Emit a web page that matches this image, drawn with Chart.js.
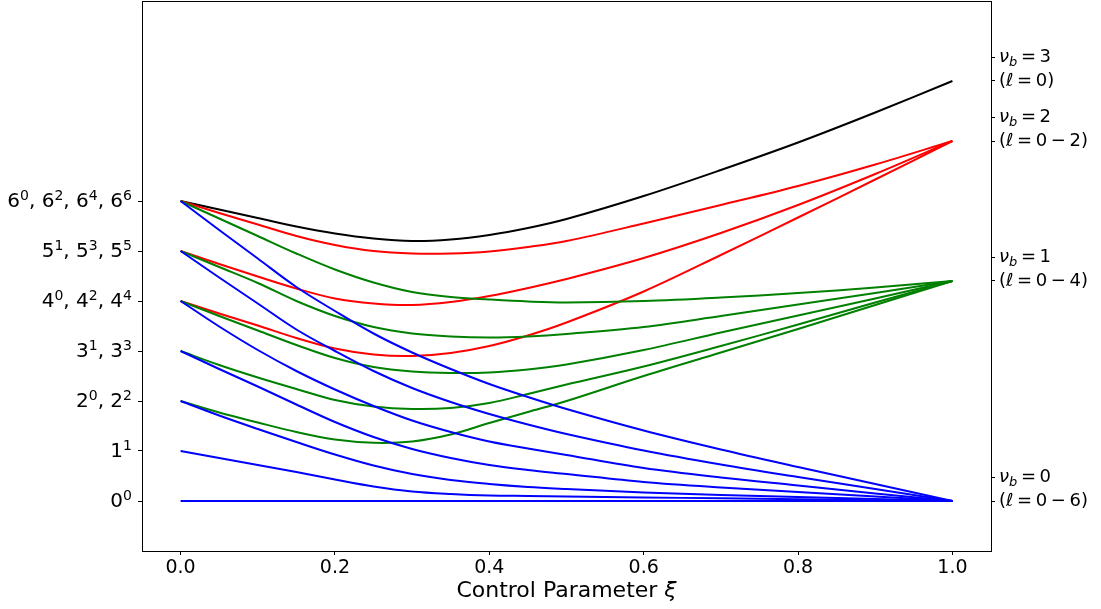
<!DOCTYPE html>
<html>
<head>
<meta charset="utf-8">
<script src="https://cdn.jsdelivr.net/npm/chart.js@4.4.1/dist/chart.umd.min.js"></script>
<style>
  html, body { margin: 0; padding: 0; background: #fff; }
  canvas { display: block; }
</style>
</head>
<body>
<canvas id="chart" width="1101" height="609"></canvas>
<script>
/* ---- data ---- */
const xi = [0, 0.05, 0.1, 0.15, 0.2, 0.25, 0.3, 0.35, 0.4, 0.45, 0.5, 0.6, 0.7, 0.8, 0.9, 1.0];

// nu_b = 0 (blue)
const s00 = [0, 0, 0, 0, 0, 0, 0, 0, 0, 0, 0, 0, 0, 0, 0, 0];
const s11 = [1, 0.86, 0.72, 0.58, 0.43, 0.29, 0.19, 0.14, 0.11, 0.1, 0.09, 0.07, 0.055, 0.035, 0.017, 0];
const s22 = [2, 1.71, 1.44, 1.18, 0.93, 0.71, 0.54, 0.42, 0.34, 0.28, 0.24, 0.17, 0.12, 0.08, 0.04, 0];
const s33 = [3, 2.64, 2.29, 1.93, 1.58, 1.28, 1.04, 0.86, 0.72, 0.62, 0.54, 0.38, 0.27, 0.18, 0.09, 0];
const s44 = [4, 3.49, 3.02, 2.6, 2.23, 1.9, 1.61, 1.38, 1.19, 1.05, 0.92, 0.66, 0.47, 0.31, 0.15, 0];
const s55 = [5, 4.47, 3.95, 3.43, 3.0, 2.6, 2.26, 1.98, 1.74, 1.53, 1.34, 1.01, 0.73, 0.48, 0.24, 0];
const s66 = [6, 5.42, 4.85, 4.28, 3.8, 3.35, 2.97, 2.64, 2.34, 2.08, 1.84, 1.41, 1.03, 0.68, 0.34, 0];
// nu_b = 1 (green)
const s20 = [2, 1.77, 1.57, 1.38, 1.23, 1.165, 1.19, 1.33, 1.56, 1.78, 2.0, 2.5, 2.97, 3.44, 3.92, 4.4];
const s31 = [3, 2.72, 2.47, 2.24, 2.02, 1.89, 1.84, 1.86, 1.96, 2.14, 2.33, 2.69, 3.1, 3.53, 3.97, 4.4];
const s42 = [4, 3.7, 3.41, 3.12, 2.86, 2.68, 2.59, 2.56, 2.57, 2.63, 2.73, 3.02, 3.37, 3.71, 4.05, 4.4];
const s53 = [5, 4.68, 4.36, 4.0, 3.7, 3.48, 3.35, 3.29, 3.27, 3.29, 3.34, 3.48, 3.7, 3.93, 4.16, 4.4];
const s64 = [6, 5.65, 5.3, 4.95, 4.63, 4.37, 4.18, 4.08, 4.03, 3.99, 3.97, 4.0, 4.07, 4.16, 4.27, 4.4];
// nu_b = 2 (red)
const s40 = [4, 3.75, 3.51, 3.26, 3.05, 2.93, 2.9, 2.96, 3.1, 3.31, 3.57, 4.19, 4.92, 5.67, 6.43, 7.2];
const s51 = [5, 4.74, 4.49, 4.25, 4.05, 3.95, 3.92, 3.98, 4.1, 4.26, 4.44, 4.86, 5.36, 5.92, 6.54, 7.2];
const s62 = [6, 5.76, 5.53, 5.3, 5.12, 5.0, 4.95, 4.95, 4.99, 5.08, 5.2, 5.55, 5.92, 6.3, 6.73, 7.2];
// nu_b = 3 (black)
const s60 = [6, 5.83, 5.66, 5.49, 5.35, 5.25, 5.2, 5.23, 5.32, 5.46, 5.64, 6.1, 6.62, 7.17, 7.77, 8.4];

const xTicks = [0, 0.2, 0.4, 0.6, 0.8, 1.0];
const leftTickValues = [0, 1, 2, 3, 4, 5, 6];
const leftTickLabels = ['0^0', '1^1', '2^0, 2^2', '3^1, 3^3', '4^0, 4^2, 4^4', '5^1, 5^3, 5^5', '6^0, 6^2, 6^4, 6^6'];
const rightTickValues = [0.47, 0, 4.87, 4.4, 7.67, 7.2, 8.87, 8.4];
const rightTickLabels = ['ν_b = 0', '(ℓ = 0 − 6)', 'ν_b = 1', '(ℓ = 0 − 4)',
                         'ν_b = 2', '(ℓ = 0 − 2)', 'ν_b = 3', '(ℓ = 0)'];
const xTitle = 'Control Parameter ξ';

const groups = [
  { color: '#0000ff', series: [s00, s11, s22, s33, s44, s55, s66] },
  { color: '#008000', series: [s20, s31, s42, s53, s64] },
  { color: '#ff0000', series: [s40, s51, s62] },
  { color: '#000000', series: [s60] }
];

const FONT = 'DejaVu Sans';

const datasets = [];
groups.forEach(g => g.series.forEach(s => {
  datasets.push({
    data: s.map((v, i) => ({ x: xi[i], y: v })),
    borderColor: g.color,
    borderWidth: 2,
    pointRadius: 0,
    fill: false,
    tension: 0.35
  });
}));

// mathtext-ish text: greek oblique, "_x" subscript, "^x" superscript
function drawMath(ctx, txt, x, y, size, spaceEm, dry) {
  for (let k = 0; k < txt.length; k++) {
    const c = txt[k];
    if (c === '_' || c === '^') {
      const s = txt[++k];
      const small = Math.round(size * 0.7);
      ctx.font = (c === '_' ? 'oblique ' : '') + `${small}px "${FONT}"`;
      if (!dry) ctx.fillText(s, x, c === '_' ? y + size * 0.28 : y - size * 0.3);
      x += ctx.measureText(s).width;
      continue;
    }
    if (c === ' ') { x += size * spaceEm; continue; }
    ctx.font = ('νℓξ'.includes(c) ? 'oblique ' : '') + `${size}px "${FONT}"`;
    if (!dry) ctx.fillText(c, x, y);
    x += ctx.measureText(c).width;
  }
  return x;
}

const framePlugin = {
  id: 'frame',
  afterDraw(chart) {
    const { ctx, chartArea: a } = chart;
    ctx.save();
    ctx.strokeStyle = '#000';
    ctx.lineWidth = 1;
    ctx.strokeRect(Math.round(a.left) + 0.5, Math.round(a.top) + 0.5,
                   Math.round(a.right - a.left), Math.round(a.bottom - a.top));

    ctx.fillStyle = '#000';
    ctx.textBaseline = 'middle';
    ctx.textAlign = 'left';

    const sl = chart.scales.y;
    leftTickValues.forEach((v, i) => {
      const w = drawMath(ctx, leftTickLabels[i], 0, 0, 20, 0.318, true);
      drawMath(ctx, leftTickLabels[i], 132 - w, sl.getPixelForValue(v) + 1, 20, 0.318, false);
    });

    const sr = chart.scales.y2;
    rightTickValues.forEach((v, i) => {
      drawMath(ctx, rightTickLabels[i], sr.left + 8, sr.getPixelForValue(v), 18, 0.2, false);
    });

    // x-axis title with italic xi
    ctx.font = `22px "${FONT}"`;
    const plain = xTitle.slice(0, -1);
    const w1 = ctx.measureText(plain).width;
    ctx.font = `oblique 22px "${FONT}"`;
    const w2 = ctx.measureText('ξ').width;
    const x = (a.left + a.right) / 2 - (w1 + w2) / 2;
    ctx.font = `22px "${FONT}"`;
    ctx.fillText(plain, x, 591);
    ctx.font = `oblique 22px "${FONT}"`;
    ctx.fillText('ξ', x + w1, 591);
    ctx.restore();
  }
};

new Chart(document.getElementById('chart'), {
  type: 'line',
  data: { datasets },
  plugins: [framePlugin],
  options: {
    responsive: false,
    animation: false,
    devicePixelRatio: 1,
    layout: { padding: { top: 1, left: 0, right: 0, bottom: 0 } },
    plugins: { legend: { display: false }, tooltip: { enabled: false } },
    scales: {
      x: {
        type: 'linear', min: -0.05, max: 1.05,
        afterBuildTicks: a => { a.ticks = xTicks.map(v => ({ value: v })); },
        afterFit: a => { a.height = 58; a.paddingLeft = 0; a.paddingRight = 0; },
        ticks: { autoSkip: false, maxRotation: 0, color: '#000', padding: 2,
                 font: { family: FONT, size: 19 }, callback: v => v.toFixed(1) },
        grid: { drawOnChartArea: false, drawTicks: true, tickLength: 4, color: '#000' },
        border: { display: true, color: '#000', width: 1 }
      },
      y: {
        type: 'linear', position: 'left', min: -1, max: 10,
        afterBuildTicks: a => { a.ticks = leftTickValues.map(v => ({ value: v })); },
        afterFit: a => { a.width = 142; a.paddingTop = 0; a.paddingBottom = 0; },
        ticks: { autoSkip: false, callback: () => '' },
        grid: { drawOnChartArea: false, drawTicks: true, tickLength: 4, color: '#000' },
        border: { display: true, color: '#000', width: 1 }
      },
      y2: {
        type: 'linear', position: 'right', min: -1, max: 10,
        afterBuildTicks: a => { a.ticks = rightTickValues.map(v => ({ value: v })); },
        afterFit: a => { a.width = 110; a.paddingTop = 0; a.paddingBottom = 0; },
        ticks: { autoSkip: false, callback: () => '' },
        grid: { drawOnChartArea: false, drawTicks: true, tickLength: 4, color: '#000' },
        border: { display: true, color: '#000', width: 1 }
      }
    }
  }
});
</script>
</body>
</html>
